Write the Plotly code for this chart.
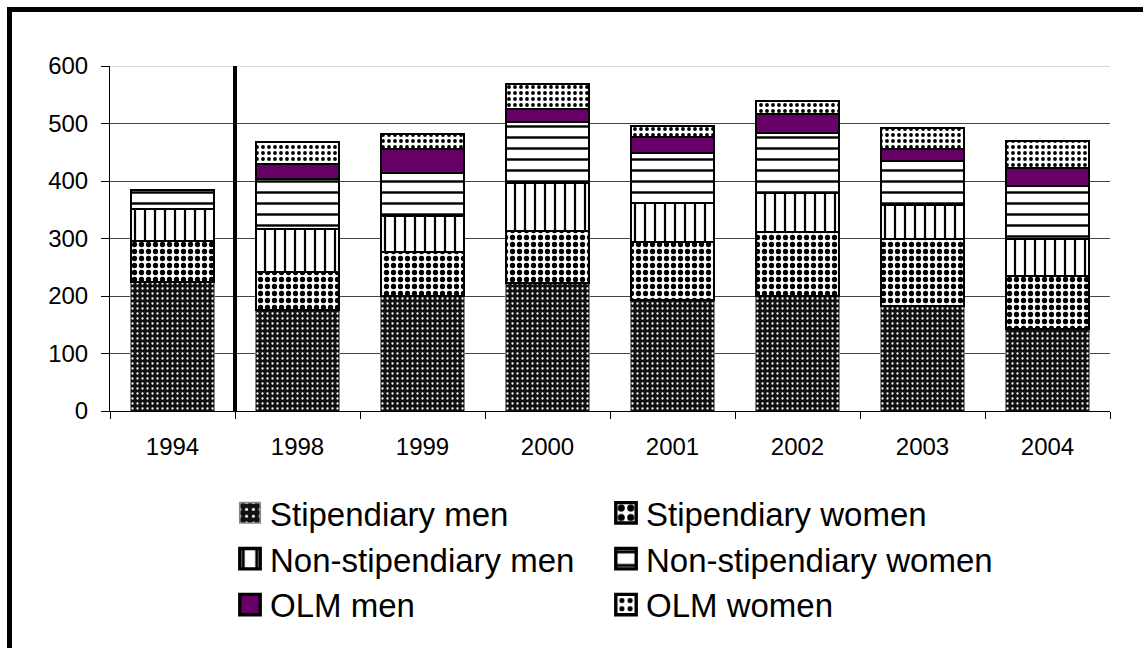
import plotly.graph_objects as go

years = ["1994", "1998", "1999", "2000", "2001", "2002", "2003", "2004"]
stip_men = [225, 175, 200, 223, 193, 200, 182, 142]
stip_women = [71, 67, 77, 90, 101, 112, 118, 93]
nonstip_men = [55, 74, 62, 83, 67, 67, 58, 65]
nonstip_women = [34, 87, 75, 106, 88, 104, 77, 92]
olm_men = [0, 26, 41, 24, 27, 33, 21, 31]
olm_women = [0, 39, 26, 43, 20, 24, 37, 47]

FONT = "Liberation Sans, Arial, sans-serif"

series = [
    ("Stipendiary men", stip_men, dict(shape=".", bgcolor="#111111", fgcolor="#ffffff", size=5, solidity=0.16, fillmode="replace"), "#888888", 1, "legend"),
    ("Stipendiary women", stip_women, dict(shape=".", bgcolor="#ffffff", fgcolor="#000000", size=7, solidity=0.45, fillmode="replace"), "#000000", 2, "legend2"),
    ("Non-stipendiary men", nonstip_men, dict(shape="|", bgcolor="#ffffff", fgcolor="#000000", size=10, solidity=0.22, fillmode="replace"), "#000000", 2, "legend"),
    ("Non-stipendiary women", nonstip_women, dict(shape="-", bgcolor="#ffffff", fgcolor="#000000", size=11, solidity=0.22, fillmode="replace"), "#000000", 2, "legend2"),
    ("OLM men", olm_men, None, "#000000", 2, "legend"),
    ("OLM women", olm_women, dict(shape=".", bgcolor="#ffffff", fgcolor="#000000", size=6, solidity=0.32, fillmode="replace"), "#000000", 2, "legend2"),
]

fig = go.Figure()
for name, vals, pat, lc, lw, lg in series:
    marker = dict(line=dict(color=lc, width=lw))
    if pat is None:
        marker["color"] = "#660066"
    else:
        marker["color"] = pat["bgcolor"]
        marker["pattern"] = pat
    fig.add_trace(go.Bar(x=years, y=vals, name=name, marker=marker, legend=lg))

leg_common = dict(y=-0.214, xanchor="left", yanchor="top", orientation="v",
                  font=dict(size=33, family=FONT, color="black"), traceorder="normal",
                  bgcolor="rgba(0,0,0,0)", itemwidth=30)

fig.update_layout(
    width=1143, height=648,
    barmode="stack", bargap=0.33,
    plot_bgcolor="white", paper_bgcolor="white",
    margin=dict(l=110, r=33, t=66, b=237),
    font=dict(family=FONT, size=24, color="black"),
    legend=dict(x=0.12, **leg_common),
    legend2=dict(x=0.496, **leg_common),
    showlegend=True,
)
fig.update_yaxes(range=[0, 600], dtick=100, showgrid=True, gridcolor="#444444", gridwidth=1,
                 showline=True, linecolor="black", linewidth=1, ticks="outside", ticklen=8,
                 tickcolor="black", tickfont=dict(size=24), zeroline=False,
                 ticklabelstandoff=8)
fig.update_xaxes(showline=True, linecolor="black", linewidth=1, ticks="outside", ticklen=7,
                 tickson="boundaries", tickcolor="black", tickfont=dict(size=24),
                 ticklabelstandoff=14)

# light top gridline as in the original
fig.add_shape(type="line", xref="paper", yref="y", x0=0, x1=1, y0=600, y1=600,
              line=dict(color="#d9d9d9", width=2), layer="below")
# separator between 1994 and 1998
fig.add_shape(type="line", xref="x", yref="y", x0=0.5, x1=0.5, y0=-10, y1=610,
              line=dict(color="black", width=4))
# outer frame (left and top edges visible)
fig.add_shape(type="rect", xref="paper", yref="paper", x0=-0.1005, x1=1.3, y0=-2, y1=1.1638,
              line=dict(color="black", width=5), layer="above")

post = """
document.body.style.margin = '0';
document.querySelectorAll('.legendpoints path').forEach(function(p){
  p.setAttribute('transform', 'translate(20,0) scale(1.7)');
});
"""
fig.write_html("out.html", post_script=post, config={"displayModeBar": False})
